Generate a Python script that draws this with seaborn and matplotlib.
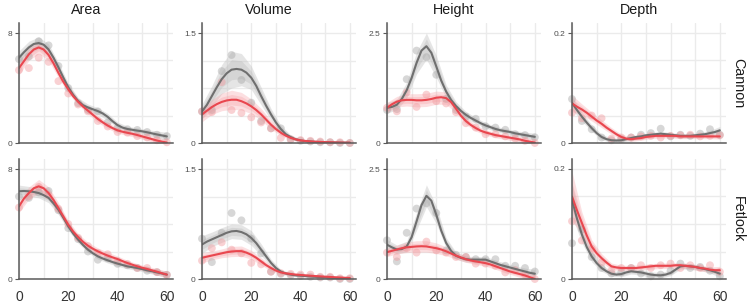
import numpy as np
import pandas as pd
import matplotlib
matplotlib.use("Agg")
import matplotlib.pyplot as plt
import seaborn as sns

# ---------------- data ----------------
measures = ["Area", "Volume", "Height", "Depth"]
sites = ["Cannon", "Fetlock"]
groups = ["grey", "red"]
y_max = {"Area": 8, "Volume": 1.5, "Height": 2.5, "Depth": 0.2}
y_max_labels = {"Area": "8", "Volume": "1.5", "Height": "2.5", "Depth": "0.2"}
x_ticks = [0, 20, 40, 60]

x_points = [0, 4, 8, 12, 16, 20, 24, 28, 32, 36, 40, 44, 48, 52, 56, 60]
x_fit = [0, 2, 4, 6, 8, 10, 12, 14, 16, 18, 20, 22, 24, 26, 28, 30,
         32, 34, 36, 38, 40, 42, 44, 46, 48, 50, 52, 54, 56, 58, 60]

# --- Area / Cannon ---
area_cannon_grey_fit = [6.2, 6.6, 6.95, 7.2, 7.27, 7.15, 6.8, 6.2, 5.5, 4.75, 4.05, 3.5, 3.05, 2.75, 2.58, 2.45,
                        2.32, 2.15, 1.9, 1.58, 1.3, 1.12, 1.02, 0.96, 0.9, 0.85, 0.78, 0.7, 0.62, 0.55, 0.48]
area_cannon_red_fit = [5.45, 5.95, 6.45, 6.8, 6.95, 6.8, 6.4, 5.8, 5.1, 4.45, 3.9, 3.4, 3.0, 2.65, 2.35, 2.05,
                       1.75, 1.5, 1.27, 1.08, 0.92, 0.82, 0.74, 0.67, 0.58, 0.48, 0.38, 0.28, 0.18, 0.1, 0.03]
area_cannon_grey_pts = [6.1, 6.3, 7.4, 7.1, 5.6, 4.0, 2.9, 2.4, 2.3, 1.5, 1.1, 1.0, 0.95, 0.8, 0.6, 0.5]
area_cannon_red_pts = [5.3, 5.45, 6.2, 5.9, 4.5, 3.6, 2.8, 2.3, 1.6, 1.2, 0.8, 0.75, 0.5, 0.4, 0.2, 0.05]
area_cannon_grey_se = [0.5, 0.45, 0.45, 0.4, 0.35, 0.3, 0.25, 0.25, 0.25, 0.25, 0.22, 0.2, 0.2, 0.2, 0.25, 0.3]
area_cannon_red_se = [0.5, 0.45, 0.45, 0.4, 0.35, 0.3, 0.25, 0.25, 0.25, 0.22, 0.2, 0.2, 0.2, 0.2, 0.22, 0.25]

# --- Volume / Cannon ---
volume_cannon_grey_fit = [0.43, 0.52, 0.64, 0.76, 0.87, 0.95, 1.0, 1.01, 1.0, 0.96, 0.89, 0.78, 0.64, 0.51, 0.39, 0.28,
                          0.19, 0.12, 0.08, 0.05, 0.035, 0.025, 0.02, 0.015, 0.012, 0.01, 0.008, 0.006, 0.005, 0.004, 0.003]
volume_cannon_red_fit = [0.39, 0.44, 0.49, 0.53, 0.56, 0.58, 0.59, 0.59, 0.57, 0.54, 0.5, 0.45, 0.39, 0.32, 0.25, 0.19,
                         0.14, 0.1, 0.07, 0.05, 0.035, 0.028, 0.022, 0.018, 0.015, 0.012, 0.01, 0.008, 0.006, 0.005, 0.004]
volume_cannon_grey_pts = [0.43, 0.45, 0.98, 1.2, 0.86, 0.55, 0.3, 0.2, 0.2, 0.05, 0.03, 0.02, 0.01, 0.01, 0.0, 0.0]
volume_cannon_red_pts = [0.43, 0.42, 0.83, 0.45, 0.41, 0.35, 0.28, 0.2, 0.07, 0.05, 0.04, 0.03, 0.02, 0.01, 0.01, 0.0]
volume_cannon_grey_se = [0.1, 0.14, 0.2, 0.25, 0.22, 0.16, 0.12, 0.08, 0.05, 0.03, 0.02, 0.015, 0.015, 0.015, 0.015, 0.02]
volume_cannon_red_se = [0.1, 0.1, 0.12, 0.13, 0.12, 0.1, 0.08, 0.06, 0.04, 0.03, 0.02, 0.015, 0.015, 0.015, 0.015, 0.02]

# --- Height / Cannon ---
height_cannon_grey_fit = [0.8, 0.82, 0.87, 1.0, 1.2, 1.48, 1.82, 2.1, 2.2, 2.05, 1.74, 1.42, 1.17, 0.98, 0.84, 0.73,
                          0.64, 0.57, 0.51, 0.45, 0.4, 0.36, 0.32, 0.29, 0.27, 0.25, 0.22, 0.2, 0.18, 0.16, 0.14]
height_cannon_red_fit = [0.8, 0.88, 0.94, 0.97, 0.98, 0.98, 0.97, 0.97, 0.98, 1.0, 1.03, 1.04, 1.02, 0.93, 0.78, 0.62,
                         0.5, 0.41, 0.34, 0.28, 0.24, 0.21, 0.18, 0.16, 0.14, 0.12, 0.1, 0.08, 0.05, 0.03, 0.01]
height_cannon_grey_pts = [0.75, 0.77, 1.45, 2.1, 1.95, 1.55, 1.0, 0.75, 0.6, 0.55, 0.38, 0.35, 0.3, 0.2, 0.18, 0.13]
height_cannon_red_pts = [0.8, 0.72, 1.15, 0.82, 1.1, 0.95, 0.9, 0.7, 0.45, 0.35, 0.2, 0.2, 0.15, 0.1, 0.05, 0.0]
height_cannon_grey_se = [0.12, 0.12, 0.18, 0.25, 0.3, 0.25, 0.15, 0.1, 0.08, 0.07, 0.06, 0.06, 0.06, 0.06, 0.07, 0.08]
height_cannon_red_se = [0.12, 0.12, 0.14, 0.15, 0.15, 0.15, 0.14, 0.1, 0.08, 0.07, 0.06, 0.06, 0.06, 0.06, 0.07, 0.08]

# --- Depth / Cannon ---
depth_cannon_grey_fit = [0.073, 0.06, 0.048, 0.037, 0.027, 0.018, 0.011, 0.007, 0.005, 0.0045, 0.005, 0.007, 0.009,
                         0.011, 0.012, 0.014, 0.015, 0.016, 0.017, 0.016, 0.015, 0.014, 0.013, 0.013, 0.013, 0.014,
                         0.015, 0.016, 0.018, 0.02, 0.023]
depth_cannon_red_fit = [0.072, 0.066, 0.061, 0.055, 0.048, 0.041, 0.035, 0.028, 0.022, 0.016, 0.011, 0.008, 0.007,
                        0.008, 0.009, 0.011, 0.012, 0.013, 0.013, 0.013, 0.013, 0.013, 0.012, 0.012, 0.012, 0.012,
                        0.012, 0.012, 0.012, 0.012, 0.012]
depth_cannon_grey_pts = [0.08, 0.04, 0.025, 0.01, 0.005, 0.007, 0.01, 0.015, 0.018, 0.026, 0.012, 0.015, 0.013, 0.017, 0.025, 0.015]
depth_cannon_red_pts = [0.055, 0.045, 0.05, 0.045, 0.008, 0.01, 0.01, 0.012, 0.013, 0.01, 0.013, 0.014, 0.015, 0.012, 0.013, 0.014]
depth_cannon_grey_se = [0.012, 0.008, 0.006, 0.005, 0.004, 0.004, 0.004, 0.004, 0.004, 0.004, 0.004, 0.004, 0.004, 0.004, 0.005, 0.007]
depth_cannon_red_se = [0.015, 0.01, 0.008, 0.007, 0.006, 0.005, 0.004, 0.004, 0.004, 0.004, 0.004, 0.004, 0.004, 0.004, 0.004, 0.005]

# --- Area / Fetlock ---
area_fetlock_grey_fit = [6.38, 6.4, 6.38, 6.33, 6.25, 6.1, 5.9, 5.5, 5.04, 4.45, 3.83, 3.3, 2.86, 2.47, 2.13, 1.87,
                         1.65, 1.49, 1.36, 1.23, 1.12, 1.02, 0.92, 0.86, 0.8, 0.72, 0.63, 0.56, 0.48, 0.4, 0.32]
area_fetlock_red_fit = [5.28, 5.85, 6.25, 6.6, 6.74, 6.6, 6.25, 5.75, 5.16, 4.55, 3.95, 3.45, 3.05, 2.7, 2.42, 2.2,
                        2.01, 1.85, 1.7, 1.57, 1.45, 1.3, 1.16, 1.04, 0.92, 0.82, 0.73, 0.63, 0.53, 0.42, 0.32]
area_fetlock_grey_pts = [6.0, 5.9, 6.3, 6.4, 5.0, 3.7, 2.9, 2.0, 1.4, 1.5, 1.1, 1.0, 0.8, 0.6, 0.5, 0.3]
area_fetlock_red_pts = [5.2, 6.0, 6.7, 6.1, 5.1, 4.0, 3.0, 2.4, 1.9, 1.8, 1.3, 1.1, 0.8, 0.8, 0.5, 0.3]
area_fetlock_grey_se = [0.45, 0.35, 0.35, 0.35, 0.35, 0.3, 0.25, 0.22, 0.2, 0.2, 0.2, 0.18, 0.18, 0.18, 0.2, 0.25]
area_fetlock_red_se = [0.45, 0.45, 0.5, 0.45, 0.4, 0.3, 0.25, 0.25, 0.25, 0.25, 0.22, 0.2, 0.2, 0.2, 0.22, 0.25]

# --- Volume / Fetlock ---
volume_fetlock_grey_fit = [0.47, 0.51, 0.54, 0.57, 0.6, 0.63, 0.65, 0.655, 0.64, 0.61, 0.56, 0.49, 0.4, 0.31, 0.22,
                           0.15, 0.1, 0.075, 0.06, 0.05, 0.045, 0.04, 0.035, 0.03, 0.027, 0.022, 0.018, 0.013, 0.008,
                           0.004, 0.0]
volume_fetlock_red_fit = [0.29, 0.305, 0.32, 0.335, 0.35, 0.365, 0.375, 0.38, 0.38, 0.36, 0.33, 0.29, 0.24, 0.19,
                          0.15, 0.115, 0.09, 0.077, 0.068, 0.06, 0.055, 0.05, 0.045, 0.04, 0.036, 0.032, 0.028,
                          0.024, 0.02, 0.017, 0.014]
volume_fetlock_grey_pts = [0.55, 0.23, 0.63, 0.9, 0.8, 0.55, 0.35, 0.1, 0.07, 0.05, 0.04, 0.03, 0.02, 0.02, 0.0, 0.0]
volume_fetlock_red_pts = [0.25, 0.42, 0.5, 0.4, 0.35, 0.22, 0.2, 0.1, 0.08, 0.07, 0.06, 0.06, 0.03, 0.03, 0.01, 0.01]
volume_fetlock_grey_se = [0.12, 0.1, 0.1, 0.1, 0.1, 0.1, 0.08, 0.05, 0.03, 0.02, 0.015, 0.015, 0.015, 0.015, 0.015, 0.02]
volume_fetlock_red_se = [0.07, 0.06, 0.06, 0.07, 0.07, 0.06, 0.05, 0.04, 0.03, 0.02, 0.015, 0.015, 0.015, 0.015, 0.015, 0.02]

# --- Height / Fetlock ---
height_fetlock_grey_fit = [0.78, 0.72, 0.67, 0.68, 0.74, 0.95, 1.31, 1.68, 1.89, 1.78, 1.46, 1.1, 0.82, 0.64, 0.53,
                           0.48, 0.45, 0.44, 0.44, 0.44, 0.44, 0.4, 0.36, 0.32, 0.29, 0.26, 0.23, 0.2, 0.17, 0.14, 0.12]
height_fetlock_red_fit = [0.61, 0.64, 0.67, 0.7, 0.72, 0.73, 0.74, 0.745, 0.74, 0.72, 0.7, 0.67, 0.63, 0.58, 0.53,
                          0.49, 0.45, 0.42, 0.4, 0.38, 0.36, 0.33, 0.29, 0.25, 0.21, 0.17, 0.14, 0.11, 0.08, 0.04, 0.0]
height_fetlock_grey_pts = [0.88, 0.4, 1.05, 1.6, 1.72, 1.5, 0.65, 0.55, 0.5, 0.45, 0.45, 0.45, 0.3, 0.3, 0.25, 0.17]
height_fetlock_red_pts = [0.6, 0.5, 0.7, 0.6, 0.85, 0.65, 0.6, 0.5, 0.5, 0.35, 0.35, 0.3, 0.15, 0.2, 0.1, 0.0]
height_fetlock_grey_se = [0.12, 0.1, 0.12, 0.2, 0.25, 0.2, 0.12, 0.08, 0.07, 0.07, 0.07, 0.07, 0.07, 0.07, 0.08, 0.1]
height_fetlock_red_se = [0.1, 0.1, 0.12, 0.13, 0.13, 0.12, 0.1, 0.08, 0.07, 0.07, 0.07, 0.07, 0.07, 0.07, 0.08, 0.1]

# --- Depth / Fetlock ---
depth_fetlock_grey_fit = [0.144, 0.11, 0.081, 0.058, 0.041, 0.029, 0.02, 0.014, 0.0097, 0.008, 0.009, 0.012, 0.014,
                          0.013, 0.012, 0.01, 0.008, 0.007, 0.0067, 0.008, 0.011, 0.017, 0.023, 0.024, 0.023, 0.022,
                          0.02, 0.018, 0.016, 0.013, 0.0097]
depth_fetlock_red_fit = [0.15, 0.125, 0.102, 0.079, 0.059, 0.047, 0.038, 0.03, 0.023, 0.021, 0.02, 0.02, 0.02, 0.02,
                         0.021, 0.022, 0.023, 0.024, 0.024, 0.024, 0.024, 0.025, 0.025, 0.024, 0.023, 0.022, 0.02,
                         0.019, 0.017, 0.016, 0.016]
depth_fetlock_grey_pts = [0.065, 0.09, 0.04, 0.02, 0.01, 0.012, 0.02, 0.01, 0.005, 0.008, 0.015, 0.028, 0.02, 0.022, 0.015, 0.005]
depth_fetlock_red_pts = [0.105, 0.07, 0.055, 0.03, 0.015, 0.02, 0.02, 0.025, 0.02, 0.025, 0.028, 0.02, 0.025, 0.02, 0.025, 0.013]
depth_fetlock_grey_se = [0.03, 0.015, 0.01, 0.006, 0.005, 0.005, 0.005, 0.005, 0.005, 0.005, 0.005, 0.005, 0.005, 0.005, 0.005, 0.007]
depth_fetlock_red_se = [0.045, 0.02, 0.012, 0.008, 0.006, 0.005, 0.005, 0.005, 0.005, 0.005, 0.005, 0.005, 0.005, 0.005, 0.005, 0.007]

# ---------------- tidy tables ----------------
g = globals()
fit_rows, pt_rows, band_rows = [], [], []
for m in measures:
    for s in sites:
        for grp in groups:
            key = f"{m.lower()}_{s.lower()}_{grp}"
            for x, v in zip(x_fit, g[key + "_fit"]):
                fit_rows.append((m, s, grp, x, v))
            fit_at_pts = dict(zip(x_fit, g[key + "_fit"]))
            for x, v, se in zip(x_points, g[key + "_pts"], g[key + "_se"]):
                pt_rows.append((m, s, grp, x, v))
                band_rows.append((m, s, grp, x, fit_at_pts[x], se))
fits = pd.DataFrame(fit_rows, columns=["measure", "site", "group", "x", "value"])
pts = pd.DataFrame(pt_rows, columns=["measure", "site", "group", "x", "value"])
bands = pd.DataFrame(band_rows, columns=["measure", "site", "group", "x", "fit", "se"])

# ---------------- style ----------------
sns.set_theme(style="white")
plt.rcParams["font.family"] = ["Liberation Sans", "DejaVu Sans"]

line_col = {"grey": "#6f6f6f", "red": "#e9474f"}
pt_col = {"grey": "#a8a8a8", "red": "#f29a9e"}
band_col = {"grey": "#bdbdbd", "red": "#f7a0a5"}
band_alpha = {"grey": 0.38, "red": 0.33}
grid_col = "#ebebeb"
axis_col = "#5a5a5a"

W, H = 750, 304
fig = plt.figure(figsize=(W / 100, H / 100), dpi=100)

lefts_px = [19, 202, 387, 572]
panel_w = 154
panel_h = 120
tops_px = [23, 159]

for r, s in enumerate(sites):
    for c, m in enumerate(measures):
        ax = fig.add_axes([lefts_px[c] / W, 1 - (tops_px[r] + panel_h) / H, panel_w / W, panel_h / H])
        ymax = y_max[m]
        # grid
        for xv in [0, 10, 20, 30, 40, 50, 60]:
            ax.axvline(xv, color=grid_col, lw=1.0, zorder=0)
        for q in [0.25, 0.5, 0.75, 1.0]:
            ax.axhline(ymax * q, color=grid_col, lw=1.0, zorder=0)
        # bands
        for grp in groups:
            b = bands[(bands.measure == m) & (bands.site == s) & (bands.group == grp)]
            ax.fill_between(b.x, b.fit - b.se, b.fit + b.se, color=band_col[grp], alpha=band_alpha[grp], lw=0, zorder=1)
            ax.fill_between(b.x, b.fit - 0.55 * b.se, b.fit + 0.55 * b.se, color=band_col[grp],
                            alpha=band_alpha[grp], lw=0, zorder=1)
        # points
        p = pts[(pts.measure == m) & (pts.site == s)]
        sns.scatterplot(data=p, x="x", y="value", hue="group", palette=pt_col, hue_order=groups,
                        s=32, alpha=0.45, linewidth=0, legend=False, ax=ax, zorder=2, clip_on=False)
        # fitted lines
        f = fits[(fits.measure == m) & (fits.site == s)]
        sns.lineplot(data=f, x="x", y="value", hue="group", palette=line_col, hue_order=groups,
                     linewidth=1.5, legend=False, ax=ax, zorder=3, estimator=None, sort=True)

        ax.set_xlim(0, 62.5)
        ax.set_ylim(0, ymax * panel_h / 110)
        ax.set_xlabel("")
        ax.set_ylabel("")
        ax.set_yticks([0, ymax])
        ax.set_yticklabels(["0", y_max_labels[m]])
        ax.tick_params(axis="y", length=3, width=0.8, color=axis_col, pad=1.5,
                       labelsize=6, labelcolor="#4d4d4d", left=True)
        ax.set_xticks(x_ticks)
        if r == 1:
            ax.set_xticklabels([str(t) for t in x_ticks])
            ax.tick_params(axis="x", length=0, pad=8, labelsize=10, labelcolor="#333333")
        else:
            ax.set_xticklabels([])
            ax.tick_params(axis="x", length=0)
        for sp in ["top", "right"]:
            ax.spines[sp].set_visible(False)
        for sp in ["left", "bottom"]:
            ax.spines[sp].set_color(axis_col)
            ax.spines[sp].set_linewidth(1.1)
            ax.spines[sp].set_zorder(4)
        ax.grid(False)
        ax.set_facecolor("white")
        if r == 0:
            ax.set_title(m, x=67 / panel_w, pad=6.5, fontsize=10.3, color="#1a1a1a")
    fig.text(738 / W, 1 - (tops_px[r] + panel_h / 2) / H, s, rotation=270, ha="center", va="center",
             fontsize=10.3, color="#1a1a1a")

fig.savefig("out.png", dpi=100, facecolor="white")
